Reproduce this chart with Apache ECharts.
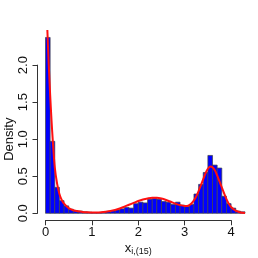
<!DOCTYPE html>
<html><head><meta charset="utf-8">
<script src="https://cdn.jsdelivr.net/npm/echarts@6/dist/echarts.min.js"></script>
<style>html,body{margin:0;padding:0;background:#fff}#c{width:258px;height:258px}</style>
</head><body><div id="c"></div>
<script>
var binEdges = [0,0.1,0.2,0.3,0.4,0.5,0.6,0.7,0.8,0.9,1.0,1.1,1.2,1.3,1.4,1.5,1.6,1.7,1.8,1.9,2.0,2.1,2.2,2.3,2.4,2.5,2.6,2.7,2.8,2.9,3.0,3.1,3.2,3.3,3.4,3.5,3.6,3.7,3.8,3.9,4.0,4.1,4.2,4.3];
var density = [2.37,0.97,0.35,0.17,0.10,0.055,0.035,0.03,0.02,0.015,0.01,0.01,0.015,0.02,0.035,0.045,0.06,0.08,0.07,0.13,0.15,0.14,0.19,0.20,0.19,0.16,0.15,0.12,0.15,0.11,0.09,0.12,0.26,0.39,0.55,0.78,0.65,0.61,0.23,0.13,0.07,0.03,0.02];
var curveX = [0.04,0.07,0.1,0.13,0.16,0.2,0.25,0.3,0.35,0.4,0.5,0.6,0.7,0.8,0.9,1.0,1.1,1.2,1.3,1.4,1.5,1.6,1.7,1.8,1.9,2.0,2.1,2.2,2.3,2.4,2.5,2.6,2.7,2.8,2.9,3.0,3.05,3.1,3.15,3.2,3.25,3.3,3.35,3.4,3.45,3.5,3.55,3.6,3.65,3.7,3.75,3.8,3.85,3.9,3.95,4.0,4.1,4.2,4.3];
var curveY = [2.47,2.0,1.6,1.25,0.95,0.62,0.40,0.26,0.18,0.13,0.07,0.042,0.027,0.018,0.013,0.01,0.01,0.013,0.02,0.03,0.045,0.065,0.09,0.115,0.14,0.165,0.185,0.2,0.21,0.21,0.2,0.18,0.155,0.13,0.11,0.10,0.10,0.11,0.135,0.175,0.23,0.30,0.38,0.46,0.54,0.60,0.63,0.62,0.58,0.51,0.43,0.35,0.27,0.19,0.13,0.085,0.035,0.012,0.004];
var xTicks = [0,1,2,3,4];
var yTicks = [0,0.5,1,1.5,2];

var font = 'Liberation Sans, Arial, sans-serif';
var chart = echarts.init(document.getElementById('c'), null, {renderer:'canvas'});
var histData = density.map(function(d,i){return [binEdges[i], binEdges[i+1], d];});
chart.setOption({
  animation:false,
  backgroundColor:'#fff',
  grid:[
    {left:45.5, right:13, top:27.8, bottom:44.7, containLabel:false, outerBoundsMode:'none'},
    {left:45.5, width:185.6, top:65.1, bottom:44.7, containLabel:false, outerBoundsMode:'none'}
  ],
  xAxis:[
    {gridIndex:0, type:'value', min:0, max:4.3, show:false},
    {gridIndex:1, type:'value', min:0, max:4, interval:1, offset:7,
     axisLine:{show:true, onZero:false, lineStyle:{color:'#333', width:1}},
     axisTick:{show:true, length:5, lineStyle:{color:'#333'}},
     splitLine:{show:false},
     axisLabel:{color:'#111', fontSize:13, fontFamily:font, margin:6},
     name:'{a|x}{b|i,(15)}', nameLocation:'middle', nameGap:21, nameMoveOverlap:false,
     nameTextStyle:{rich:{a:{fontSize:13, fontFamily:font, color:'#111'}, b:{fontSize:9, fontFamily:font, color:'#111', verticalAlign:'bottom', padding:[6,0,0,0]}}}
    }
  ],
  yAxis:[
    {gridIndex:0, type:'value', min:0, max:2.5, show:false},
    {gridIndex:1, type:'value', min:0, max:2, interval:0.5, offset:8,
     axisLine:{show:true, onZero:false, lineStyle:{color:'#333', width:1}},
     axisTick:{show:true, length:5, lineStyle:{color:'#333'}},
     splitLine:{show:false},
     axisLabel:{color:'#111', fontSize:13, fontFamily:font, rotate:90, margin:8,
       formatter:function(v){return v.toFixed(1);}},
     name:'Density', nameLocation:'middle', nameGap:21.5, nameRotate:90, nameMoveOverlap:false,
     nameTextStyle:{fontSize:13, fontFamily:font, color:'#111'}
    }
  ],
  series:[
    {type:'custom', xAxisIndex:0, yAxisIndex:0, data:histData,
     renderItem:function(params, api){
       var p0 = api.coord([api.value(0), 0]);
       var p1 = api.coord([api.value(1), api.value(2)]);
       return {type:'rect', shape:{x:p0[0], y:p1[1], width:p1[0]-p0[0], height:p0[1]-p1[1]},
         style:{fill:'#0000FF', stroke:'#444', lineWidth:0.7}};
     }},
    {type:'line', xAxisIndex:0, yAxisIndex:0, data:curveX.map(function(x,i){return [x,curveY[i]];}),
     smooth:0.3, showSymbol:false, lineStyle:{color:'#FF1010', width:2}}
  ]
});
</script></body></html>
